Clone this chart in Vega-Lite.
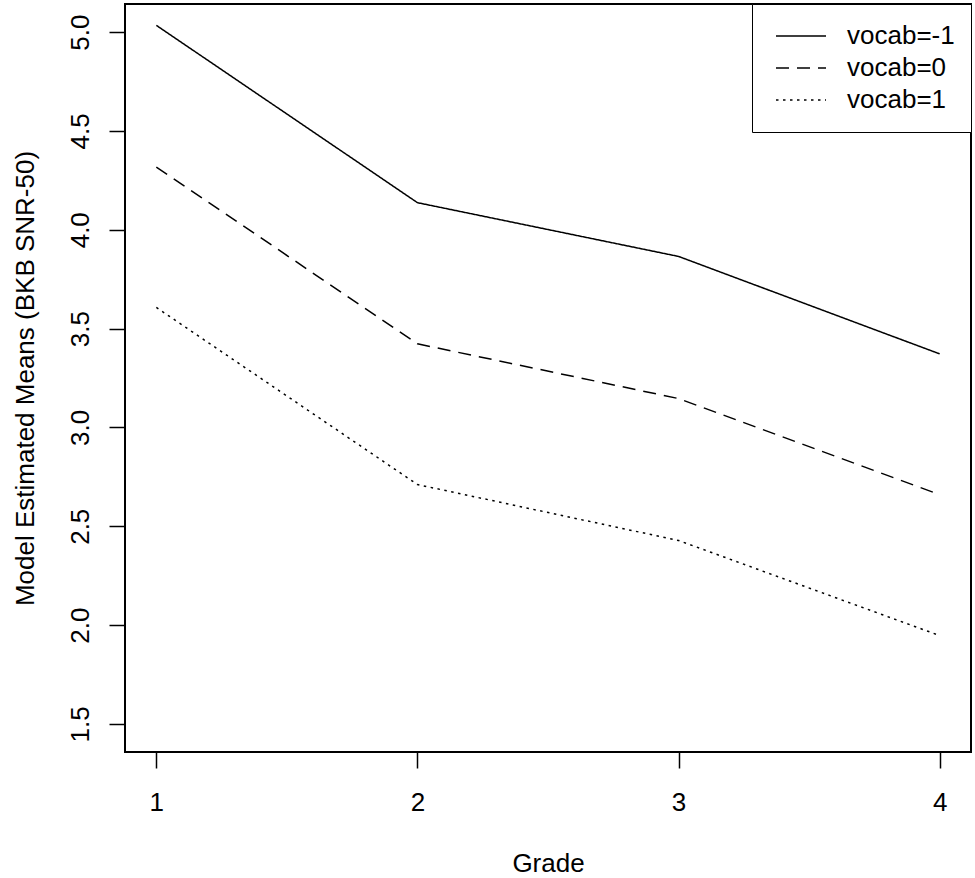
{
  "$schema": "https://vega.github.io/schema/vega-lite/v6.json",
  "width": 846,
  "height": 748,
  "autosize": {"type": "none"},
  "padding": {"left": 125, "top": 4, "right": 4, "bottom": 126},
  "background": "white",
  "config": {
    "font": "Liberation Sans",
    "view": {"stroke": "black", "strokeWidth": 2}
  },
  "data": {
    "values": [
      {"grade": 1, "vocab": "vocab=-1", "mean": 5.034},
      {"grade": 2, "vocab": "vocab=-1", "mean": 4.137},
      {"grade": 3, "vocab": "vocab=-1", "mean": 3.865},
      {"grade": 4, "vocab": "vocab=-1", "mean": 3.372},
      {"grade": 1, "vocab": "vocab=0", "mean": 4.317},
      {"grade": 2, "vocab": "vocab=0", "mean": 3.423},
      {"grade": 3, "vocab": "vocab=0", "mean": 3.146},
      {"grade": 4, "vocab": "vocab=0", "mean": 2.66},
      {"grade": 1, "vocab": "vocab=1", "mean": 3.607},
      {"grade": 2, "vocab": "vocab=1", "mean": 2.711},
      {"grade": 3, "vocab": "vocab=1", "mean": 2.428},
      {"grade": 4, "vocab": "vocab=1", "mean": 1.947}
    ]
  },
  "mark": {"type": "line", "color": "black", "strokeWidth": 1.5, "clip": true},
  "encoding": {
    "x": {
      "field": "grade",
      "type": "quantitative",
      "scale": {"domain": [0.88, 4.12], "nice": false, "zero": false},
      "axis": {
        "values": [1, 2, 3, 4],
        "format": "d",
        "title": "Grade",
        "grid": false,
        "domain": false,
        "tickSize": 16,
        "tickWidth": 1.5,
        "tickColor": "black",
        "labelFontSize": 26,
        "labelColor": "black",
        "labelBaseline": "alphabetic",
        "labelPadding": 42,
        "titleFontSize": 26,
        "titleFontWeight": "normal",
        "titleColor": "black",
        "titleBaseline": "alphabetic",
        "titleX": 423,
        "titleY": 119
      }
    },
    "y": {
      "field": "mean",
      "type": "quantitative",
      "scale": {"domain": [1.358, 5.142], "nice": false, "zero": false},
      "axis": {
        "values": [1.5, 2, 2.5, 3, 3.5, 4, 4.5, 5],
        "format": ".1f",
        "title": "Model Estimated Means (BKB SNR-50)",
        "grid": false,
        "domain": false,
        "tickSize": 16,
        "tickWidth": 1.5,
        "tickColor": "black",
        "labelFontSize": 26,
        "labelColor": "black",
        "labelAngle": 270,
        "labelAlign": "center",
        "labelBaseline": "alphabetic",
        "labelPadding": 21,
        "titleFontSize": 26,
        "titleFontWeight": "normal",
        "titleColor": "black",
        "titleAngle": 270,
        "titleAlign": "center",
        "titleBaseline": "alphabetic",
        "titleX": -92,
        "titleY": 374
      }
    },
    "strokeDash": {
      "field": "vocab",
      "type": "nominal",
      "scale": {
        "domain": ["vocab=-1", "vocab=0", "vocab=1"],
        "range": [[1, 0], [13, 8], [2.5, 4.5]]
      },
      "legend": {
        "title": null,
        "orient": "none",
        "legendX": 627,
        "legendY": 0,
        "strokeColor": "black",
        "fillColor": "white",
        "padding": 16,
        "clipHeight": 32,
        "symbolType": "stroke",
        "symbolSize": 2500,
        "symbolOffset": 7,
        "symbolStrokeWidth": 1.5,
        "symbolStrokeColor": "black",
        "labelFontSize": 26,
        "labelColor": "black",
        "labelOffset": 20,
        "labelLimit": 300,
        "rowPadding": 0
      }
    }
  }
}
